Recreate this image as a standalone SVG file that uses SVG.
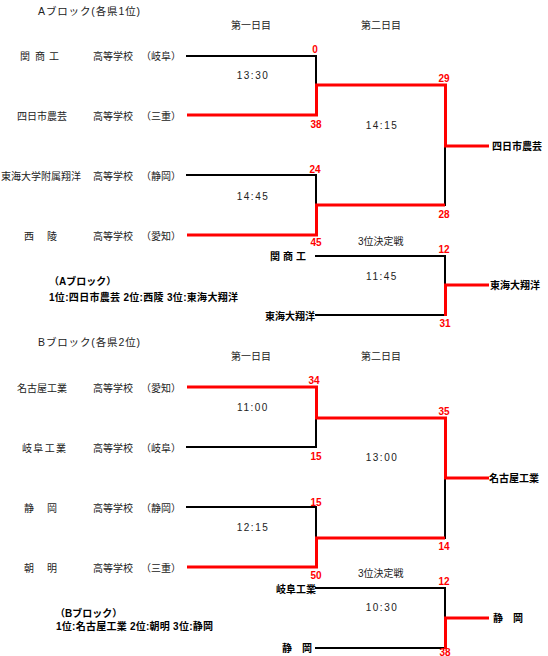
<svg xmlns="http://www.w3.org/2000/svg" width="548" height="656" viewBox="0 0 548 656">
<style>
text{font-family:"Liberation Sans","Noto Sans CJK JP",sans-serif;font-size:10px;fill:#222}
.b{font-weight:bold;fill:#000}
.hd{font-size:10.5px;fill:#222}
.s{font-weight:bold;fill:#f00;text-anchor:middle}
.tm{letter-spacing:1.5px;text-anchor:middle}
.k{fill:none;stroke:#000;stroke-width:2;stroke-linejoin:miter;stroke-linecap:square}
.r{fill:none;stroke:#f00;stroke-width:3;stroke-linejoin:miter;stroke-linecap:butt}
</style>
<rect width="548" height="656" fill="#fff"/>

<!-- Block A headers -->
<g id="a-header">
<text class="hd" x="38" y="14.5" textLength="102" lengthAdjust="spacing">Aブロック(各県1位)</text>
<text x="231" y="28.5">第一日目</text>
<text x="361" y="28.5">第二日目</text>
</g>

<g id="connectors">
<!-- A block -->
<path class="k" d="M187,56 H316 V85"/>
<path class="k" d="M187,175 H316 V205"/>
<path class="k" d="M445,146 V205"/>
<path class="k" d="M316,256 H445 V285"/>
<path class="k" d="M316,315 H445"/>
<path class="r" d="M187,115 H316.5 V85 H445.5 V146 H489"/>
<path class="r" d="M187,235 H316.5 V205 H445"/>
<path class="r" d="M445.5,316 V285 H489"/>
<!-- B block -->
<path class="k" d="M187,447 H316 V418"/>
<path class="k" d="M187,507 H316 V538"/>
<path class="k" d="M445,478 V538"/>
<path class="k" d="M316,588 H445 V618"/>
<path class="k" d="M316,648 H445"/>
<path class="r" d="M187,387 H316.5 V418 H445.5 V478 H489"/>
<path class="r" d="M187,567 H316.5 V538 H445"/>
<path class="r" d="M445.5,649 V618 H489"/>
</g>

<!-- A block teams -->
<g id="a-team-1">
<text x="20 30 35 45 49" y="59.5">関 商 工</text>
<text x="93" y="59.5">高等学校</text>
<text x="141" y="59.5">（岐阜）</text>
</g>
<g id="a-team-2">
<text x="17" y="119.5">四日市農芸</text>
<text x="93" y="119.5">高等学校</text>
<text x="141" y="119.5">（三重）</text>
</g>
<g id="a-team-3">
<text x="1" y="179.5">東海大学附属翔洋</text>
<text x="93" y="179.5">高等学校</text>
<text x="141" y="179.5">（静岡）</text>
</g>
<g id="a-team-4">
<text x="24 34 47" y="239.5">西　陵</text>
<text x="93" y="239.5">高等学校</text>
<text x="141" y="239.5">（愛知）</text>
</g>

<g id="a-scores">
<text class="s" x="315" y="52.5">0</text>
<text class="s" x="316" y="127.5">38</text>
<text class="s" x="444" y="81.5">29</text>
<text class="s" x="444" y="217.7">28</text>
<text class="s" x="315" y="172.7">24</text>
<text class="s" x="316" y="245.5">45</text>
<text class="s" x="444" y="252.7">12</text>
<text class="s" x="445" y="326.5">31</text>
</g>
<g id="a-times">
<text class="tm" x="253" y="79">13:30</text>
<text class="tm" x="382" y="129">14:15</text>
<text class="tm" x="253" y="200">14:45</text>
<text class="tm" x="382" y="280">11:45</text>
</g>
<g id="a-winner"><text class="b" x="492" y="150">四日市農芸</text></g>
<g id="a-third">
<text x="358" y="245">3位決定戦</text>
<text class="b" x="270 280 283 293 296" y="260">関 商 工</text>
<text class="b" x="265" y="319.5">東海大翔洋</text>
</g>
<g id="a-third-winner"><text class="b" x="490" y="289">東海大翔洋</text></g>
<g id="a-summary">
<text class="b" x="49" y="285">（Aブロック）</text>
<text class="b" x="49" y="301" textLength="189" lengthAdjust="spacing">1位:四日市農芸 2位:西陵 3位:東海大翔洋</text>
</g>

<!-- Block B headers -->
<g id="b-header">
<text class="hd" x="38" y="345.5" textLength="102" lengthAdjust="spacing">Bブロック(各県2位)</text>
<text x="231" y="359.5">第一日目</text>
<text x="361" y="359.5">第二日目</text>
</g>

<g id="b-team-1">
<text x="17" y="391.5">名古屋工業</text>
<text x="93" y="391.5">高等学校</text>
<text x="141" y="391.5">（愛知）</text>
</g>
<g id="b-team-2">
<text x="22" y="451.5" textLength="44" lengthAdjust="spacing">岐阜工業</text>
<text x="93" y="451.5">高等学校</text>
<text x="141" y="451.5">（岐阜）</text>
</g>
<g id="b-team-3">
<text x="24 34 47" y="511.5">静　岡</text>
<text x="93" y="511.5">高等学校</text>
<text x="141" y="511.5">（静岡）</text>
</g>
<g id="b-team-4">
<text x="24 34 47" y="571.5">朝　明</text>
<text x="93" y="571.5">高等学校</text>
<text x="141" y="571.5">（三重）</text>
</g>

<g id="b-scores">
<text class="s" x="314" y="384.3">34</text>
<text class="s" x="316" y="459.5">15</text>
<text class="s" x="444" y="414.5">35</text>
<text class="s" x="444" y="549.5">14</text>
<text class="s" x="316" y="505.5">15</text>
<text class="s" x="316" y="578.5">50</text>
<text class="s" x="444" y="585.3">12</text>
<text class="s" x="445" y="655.5">38</text>
</g>
<g id="b-times">
<text class="tm" x="253" y="411">11:00</text>
<text class="tm" x="382" y="461">13:00</text>
<text class="tm" x="253" y="531">12:15</text>
<text class="tm" x="382" y="611">10:30</text>
</g>
<g id="b-winner"><text class="b" x="489" y="482">名古屋工業</text></g>
<g id="b-third">
<text x="358" y="577">3位決定戦</text>
<text class="b" x="276" y="592.5">岐阜工業</text>
<text class="b" x="282" y="652">静　岡</text>
</g>
<g id="b-third-winner"><text class="b" x="493" y="622">静　岡</text></g>
<g id="b-summary">
<text class="b" x="55" y="617">（Bブロック）</text>
<text class="b" x="56" y="630" textLength="157" lengthAdjust="spacing">1位:名古屋工業 2位:朝明 3位:静岡</text>
</g>
</svg>
